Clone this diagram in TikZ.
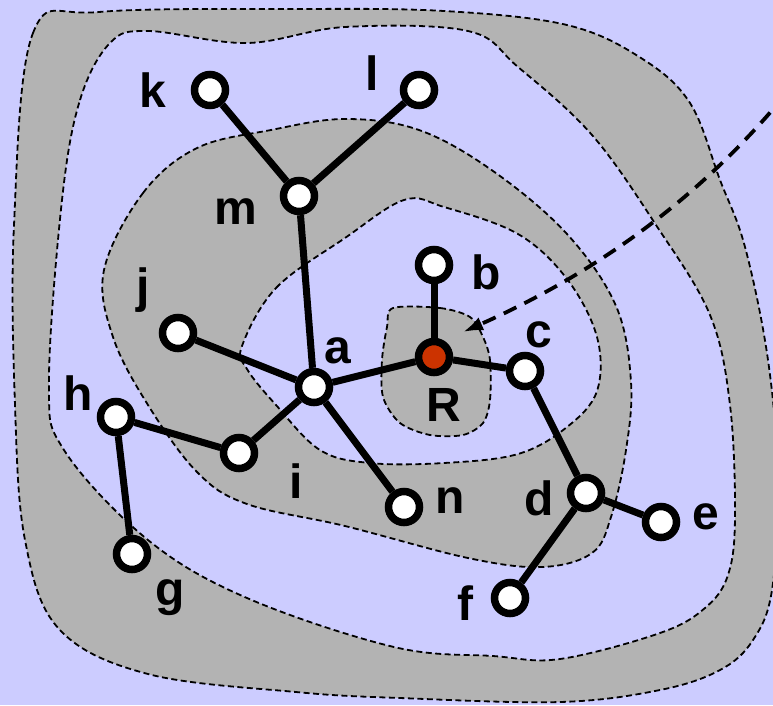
\documentclass[tikz,border=0pt]{standalone}
\usepackage{fontspec}
\setmainfont{Liberation Sans}
\usetikzlibrary{arrows.meta}
\definecolor{lavender}{HTML}{CCCCFF}
\definecolor{ringgray}{HTML}{B3B3B3}
\definecolor{rootred}{HTML}{CC3300}

\begin{document}
\begin{tikzpicture}[x=1pt,y=-1pt,
    vertex/.style={circle,draw=black,fill=white,line width=7.5pt,minimum size=31pt,inner sep=0pt},
    rootvertex/.style={vertex,fill=rootred},
    tag/.style={font=\bfseries\fontsize{48}{48}\selectfont,inner sep=0pt},
    link/.style={draw=black,line width=7pt},
    ring/.style={draw=black,line width=1.8pt,dash pattern=on 6pt off 3.5pt},
    probe/.style={draw=black,line width=3.8pt,dash pattern=on 14pt off 9pt,-{Latex[length=20pt,width=14pt]}}]
  \useasboundingbox (0,0) rectangle (773,705);
  \clip (0,0) rectangle (773,705);
  \fill[lavender] (0,0) rectangle (773,705);

  % nested regions
  \filldraw[ring,fill=ringgray] plot[smooth cycle,tension=0.6] coordinates {
    (14,225) (33,33) (99,12) (296,9) (444,11) (567,25) (641,58) (690,103)
    (720,180) (745,247) (768,360) (778,480) (772,590) (753,640) (720,670)
    (660,690) (560,702) (400,698) (296,692) (148,674) (59,629) (25,540) (15,405)};
  \filldraw[ring,fill=lavender] plot[smooth cycle,tension=0.6] coordinates {
    (62,200) (80,100) (110,43) (148,31) (247,43) (345,27) (468,31) (518,67)
    (592,135) (656,225) (710,315) (730,405) (735,517) (728,575) (705,608)
    (660,633) (560,659) (493,656) (394,647) (247,598) (148,540) (64,450) (49,382)};
  \filldraw[ring,fill=ringgray] plot[smooth cycle,tension=0.6] coordinates {
    (104,270) (143,193) (197,148) (271,130) (345,119) (419,130) (493,171)
    (567,234) (616,306) (631,382) (626,450) (611,517) (592,553) (542,567)
    (468,558) (345,526) (247,504) (197,472) (148,405) (113,337)};
  \filldraw[ring,fill=lavender] plot[smooth cycle,tension=0.6] coordinates {
    (242,346) (276,288) (345,238) (404,200) (444,207) (518,234) (567,279)
    (597,337) (597,391) (567,427) (518,454) (444,463) (370,463) (320,450)
    (276,405) (247,369)};
  \filldraw[ring,fill=ringgray] plot[smooth cycle,tension=0.5] coordinates {
    (393,308) (440,308) (470,317) (483,337) (490,360) (490,400) (483,423)
    (463,435) (430,435) (400,423) (383,397) (382,360) (387,327)};

  % incoming probe
  \coordinate (pstart) at (785,95);
  \coordinate (ptip) at (463,332);
  \draw[probe] (pstart) .. controls (690,210) and (580,280) .. (ptip);

  % vertices
  \node[vertex] (k) at (210,90) {};
  \node[vertex] (l) at (419,90) {};
  \node[vertex] (m) at (299,196) {};
  \node[vertex] (j) at (178,333) {};
  \node[vertex] (a) at (314,387) {};
  \node[rootvertex] (R) at (434,357) {};
  \node[vertex] (b) at (434,265) {};
  \node[vertex] (c) at (525,371) {};
  \node[vertex] (h) at (116,417) {};
  \node[vertex] (i) at (239,453) {};
  \node[vertex] (g) at (132,554) {};
  \node[vertex] (n) at (404,507) {};
  \node[vertex] (d) at (586,493) {};
  \node[vertex] (e) at (661,522) {};
  \node[vertex] (f) at (510,598) {};

  % tree links
  \draw[link] (a) -- (m);
  \draw[link] (m) -- (k);
  \draw[link] (m) -- (l);
  \draw[link] (a) -- (j);
  \draw[link] (a) -- (R);
  \draw[link] (R) -- (b);
  \draw[link] (R) -- (c);
  \draw[link] (c) -- (d);
  \draw[link] (d) -- (e);
  \draw[link] (d) -- (f);
  \draw[link] (a) -- (i);
  \draw[link] (i) -- (h);
  \draw[link] (h) -- (g);
  \draw[link] (a) -- (n);

  % names
  \node[tag] (tk) at (153,90) {k};
  \node[tag] (tl) at (372,73) {l};
  \node[tag] (tm) at (236,212) {m};
  \node[tag] (tj) at (143,290) {j};
  \node[tag] (ta) at (338,351) {a};
  \node[tag] (tb) at (486,272) {b};
  \node[tag] (tc) at (539,335) {c};
  \node[tag] (tR) at (444,405) {R};
  \node[tag] (th) at (78,393) {h};
  \node[tag] (ti) at (296,481) {i};
  \node[tag] (tn) at (450,501) {n};
  \node[tag] (td) at (539,498) {d};
  \node[tag] (te) at (706,517) {e};
  \node[tag] (tf) at (465,603) {f};
  \node[tag] (tg) at (170,598) {g};
\end{tikzpicture}
\end{document}
